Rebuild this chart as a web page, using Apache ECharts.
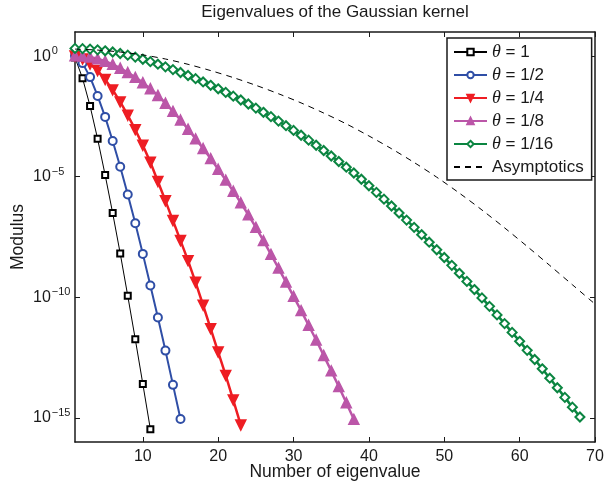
<!DOCTYPE html>
<html>
<head>
<meta charset="utf-8">
<script src="https://cdn.jsdelivr.net/npm/echarts@6/dist/echarts.min.js"></script>
<style>
  html, body { margin: 0; padding: 0; background: #fff; }
  #chart { width: 604px; height: 486px; }
</style>
</head>
<body>
<div id="chart"></div>
<script>
// log10 of the modulus, one entry per eigenvalue number 1, 2, 3, ...
const theta1 = [-0.06, -0.92, -2.07, -3.43, -4.93, -6.51, -8.18, -9.94, -11.74, -13.59, -15.47]
const theta2 = [0.02, -0.29, -0.87, -1.65, -2.52, -3.52, -4.59, -5.74, -6.93, -8.2, -9.51, -10.84, -12.21, -13.63, -15.05]
const theta4 = [0.0, -0.12, -0.33, -0.6, -0.97, -1.4, -1.9, -2.45, -3.05, -3.7, -4.4, -5.2,
  -6.0, -6.82, -7.65, -8.48, -9.38, -10.33, -11.3, -12.27, -13.24, -14.26, -15.3]
const theta8 = [0.02, 0.0, -0.04, -0.11, -0.21, -0.34, -0.5, -0.68, -0.88, -1.1, -1.35, -1.63,
  -1.95, -2.29, -2.65, -3.03, -3.43, -3.83, -4.25, -4.69, -5.14, -5.6, -6.08, -6.58, -7.1,
  -7.65, -8.22, -8.79, -9.37, -9.96, -10.55, -11.16, -11.77, -12.41, -13.05, -13.7, -14.37, -15.06]
const theta16 = [0.32, 0.31, 0.29, 0.26, 0.22, 0.17, 0.11, 0.04, -0.04, -0.13, -0.23, -0.335,
  -0.445, -0.56, -0.68, -0.805, -0.935, -1.07, -1.21, -1.355, -1.505, -1.66, -1.82, -1.985,
  -2.155, -2.33, -2.51, -2.695, -2.885, -3.08, -3.28, -3.485, -3.695, -3.915, -4.14, -4.37,
  -4.605, -4.845, -5.105, -5.375, -5.65, -5.93, -6.215, -6.505, -6.8, -7.1, -7.405, -7.715,
  -8.03, -8.35, -8.675, -9.005, -9.34, -9.68, -10.025, -10.375, -10.73, -11.09, -11.455,
  -11.825, -12.2, -12.58, -12.965, -13.355, -13.75, -14.15, -14.555, -14.965]

// dashed asymptotic curve, read at a few eigenvalue numbers
const asymN = [1, 4, 7, 10, 13, 16, 19, 22, 25, 28, 31, 34, 37, 40, 43, 46, 49, 52, 55, 58, 61, 64, 67, 70]
const asymLog = [0.29, 0.25, 0.17, 0.05, -0.12, -0.34, -0.6, -0.89, -1.21, -1.56, -1.94, -2.36,
  -2.81, -3.31, -3.84, -4.41, -5.02, -5.68, -6.38, -7.12, -7.89, -8.68, -9.48, -10.28]

const xTicks = [10, 20, 30, 40, 50, 60, 70]
const yTicks = [-15, -10, -5, 0]

const FONT = 'Liberation Sans'
const INK = '#1a1a1a'

const toPoints = (vals) => vals.map((v, i) => [i + 1, v])

const lineSeries = (name, vals, color, symbol, size, width, extra) => ({
  name,
  type: 'line',
  data: toPoints(vals),
  symbol,
  symbolSize: size,
  color,
  lineStyle: { color, width },
  itemStyle: { color, borderColor: color, borderWidth: 1.5 },
  emphasis: { disabled: true },
  animation: false,
  z: 2,
  ...extra
})

const chart = echarts.init(document.getElementById('chart'))

const frameAxis = {
  axisLine: { show: true, onZero: false, lineStyle: { color: INK, width: 1.5 } },
  axisTick: { inside: true, length: 5, lineStyle: { color: INK, width: 1 } },
  splitLine: { show: false }
}

chart.setOption({
  backgroundColor: '#fff',
  title: {
    text: 'Eigenvalues of the Gaussian kernel',
    left: 335,
    top: 4,
    padding: 0,
    textAlign: 'center',
    textStyle: { fontFamily: FONT, fontSize: 17, fontWeight: 'normal', color: INK }
  },
  grid: { left: 75, right: 9, top: 32, bottom: 44, outerBoundsMode: 'none' },
  legend: {
    orient: 'vertical',
    left: 447,
    top: 38,
    padding: [5, 8, 4, 6],
    itemWidth: 33,
    itemHeight: 8,
    itemGap: 5,
    borderColor: INK,
    borderWidth: 1.5,
    backgroundColor: '#fff',
    z: 10,
    data: [
      'θ = 1', 'θ = 1/2', 'θ = 1/4', 'θ = 1/8', 'θ = 1/16',
      { name: 'Asymptotics', itemStyle: { opacity: 0 } }
    ],
    formatter: (name) => name.startsWith('θ') ? '{it|θ}' + name.slice(1) : name,
    textStyle: {
      fontFamily: FONT,
      fontSize: 17,
      lineHeight: 18,
      color: INK,
      rich: {
        it: { fontFamily: 'Liberation Serif', fontStyle: 'italic', fontSize: 18, color: INK }
      }
    }
  },
  xAxis: [
    {
      type: 'value',
      min: 1,
      max: 70,
      name: 'Number of eigenvalue',
      nameLocation: 'middle',
      nameGap: 21,
      nameMoveOverlap: false,
      nameTextStyle: { fontFamily: FONT, fontSize: 17.5, color: INK },
      ...frameAxis,
      axisTick: { ...frameAxis.axisTick, customValues: xTicks },
      axisLabel: { customValues: xTicks, margin: 7, fontFamily: FONT, fontSize: 16, color: INK }
    },
    {
      type: 'value',
      position: 'top',
      min: 1,
      max: 70,
      ...frameAxis,
      axisTick: { ...frameAxis.axisTick, customValues: xTicks },
      axisLabel: { show: false }
    }
  ],
  yAxis: [
    {
      type: 'value',
      min: -16,
      max: 1,
      name: 'Modulus',
      nameLocation: 'middle',
      nameGap: 48,
      nameMoveOverlap: false,
      nameTextStyle: { fontFamily: FONT, fontSize: 17.5, color: INK },
      ...frameAxis,
      axisTick: { ...frameAxis.axisTick, customValues: yTicks },
      axisLabel: {
        customValues: yTicks,
        align: 'left',
        margin: 42,
        formatter: (v) => '{b|10}{s|' + (v === 0 ? '0' : '\u2212' + Math.abs(v)) + '}',
        rich: {
          b: { fontFamily: FONT, fontSize: 16, color: INK },
          s: { fontFamily: FONT, fontSize: 11, color: INK, padding: [0, 0, 10, 1] }
        }
      }
    },
    {
      type: 'value',
      position: 'right',
      min: -16,
      max: 1,
      ...frameAxis,
      axisTick: { ...frameAxis.axisTick, customValues: yTicks },
      axisLabel: { show: false }
    }
  ],
  series: [
    lineSeries('θ = 1', theta1, '#000000', 'emptyRect', 6, 1, { itemStyle: { color: '#000', borderColor: '#000', borderWidth: 1 } }),
    lineSeries('θ = 1/2', theta2, '#2f4ea6', 'emptyCircle', 8, 2),
    lineSeries('θ = 1/4', theta4, '#ee1d23', 'triangle', 10, 2.5, { symbolRotate: 180 }),
    lineSeries('θ = 1/8', theta8, '#bb56a8', 'triangle', 10, 2.5),
    lineSeries('θ = 1/16', theta16, '#0b8541', 'emptyDiamond', 9, 2.5),
    {
      name: 'Asymptotics',
      type: 'line',
      data: asymN.map((n, i) => [n, asymLog[i]]),
      symbol: 'none',
      smooth: 0.3,
      color: '#000',
      lineStyle: { color: '#000', width: 1, type: [6, 5] },
      emphasis: { disabled: true },
      animation: false,
      z: 3
    }
  ]
})
</script>
</body>
</html>
